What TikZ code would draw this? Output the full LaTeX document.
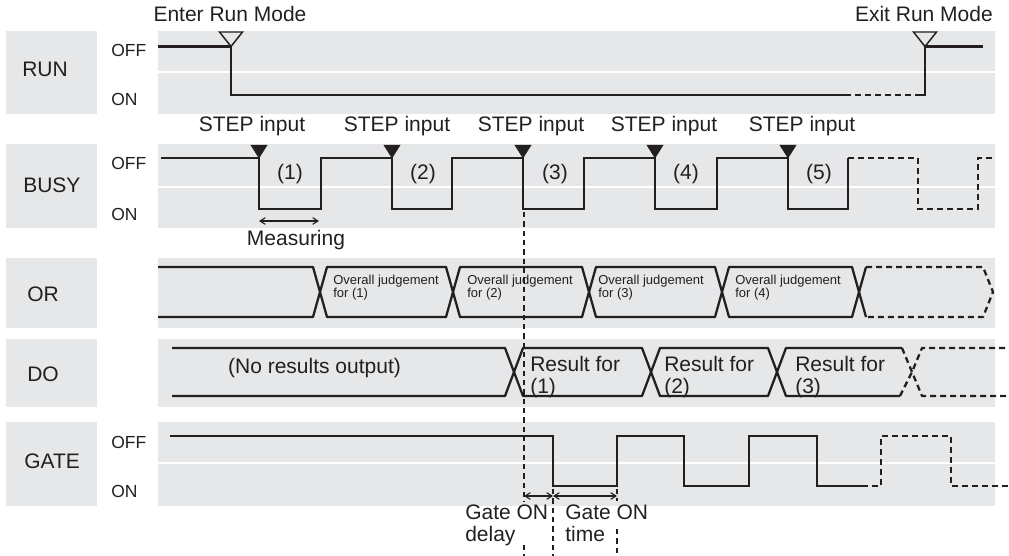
\documentclass[tikz,border=0pt]{standalone}
\usepackage{fontspec}
\setmainfont{Liberation Sans}
\usetikzlibrary{arrows.meta}
\definecolor{bggray}{HTML}{E6E7E8}
\definecolor{ink}{HTML}{231F20}
\begin{document}
\begin{tikzpicture}[x=0.75pt,y=-0.75pt,
  lbl/.style={anchor=base west,inner sep=0pt,font=\fontsize{15.75}{18}\selectfont,text=ink},
  lvl/.style={anchor=base west,inner sep=0pt,font=\fontsize{13.1}{15}\selectfont,text=ink},
  txt/.style={anchor=base,inner sep=0pt,font=\fontsize{15.75}{18}\selectfont,text=ink},
  small/.style={anchor=base west,inner sep=0pt,align=left,font=\fontsize{9.75}{8.8}\selectfont,text=ink},
  res/.style={anchor=base west,inner sep=0pt,align=left,font=\fontsize{15.75}{16.2}\selectfont,text=ink},
  gtxt/.style={anchor=base west,inner sep=0pt,align=left,font=\fontsize{15.75}{16}\selectfont,text=ink},
  sig/.style={draw=ink,line width=1.7pt,line join=miter},
  dsig/.style={sig,dash pattern=on 4.5pt off 3pt},
  bus/.style={draw=ink,line width=1.7pt,line join=round},
  dbus/.style={bus,dash pattern=on 4.5pt off 3pt},
  guide/.style={draw=ink,line width=0.9pt,dash pattern=on 4pt off 3pt},
  dimarrow/.style={draw=ink,line width=0.8pt,{Straight Barb[length=4pt,width=5pt]}-{Straight Barb[length=4pt,width=5pt]}},
  sep/.style={draw=white,line width=1.5pt},
  hollowtri/.style={draw=ink,line width=1.1pt,line join=miter},
  filltri/.style={fill=ink},
]
\useasboundingbox (0,0) rectangle (1009,556);
% ---------- panels ----------
\fill[bggray] (6,31) rectangle (97,114);
\fill[bggray] (158,31) rectangle (995,114);
\draw[sep] (158,72) -- (995,72);
\fill[bggray] (6,144) rectangle (97,228);
\fill[bggray] (158,144) rectangle (995,228);
\draw[sep] (158,186.5) -- (995,186.5);
\fill[bggray] (6,258) rectangle (97,328);
\fill[bggray] (158,258) rectangle (995,328);
\fill[bggray] (6,339) rectangle (97,407);
\fill[bggray] (158,339) rectangle (995,407);
\fill[bggray] (6,422) rectangle (97,506);
\fill[bggray] (158,422) rectangle (995,506);
\draw[sep] (158,463) -- (995,463);
% ---------- row labels ----------
\node[lbl] (lrun) at (22,77) {RUN};
\node[lbl] (lbusy) at (23,192) {BUSY};
\node[lbl] (lor) at (27,301) {OR};
\node[lbl] (ldo) at (27,381) {DO};
\node[lbl] (lgate) at (24,468) {GATE};
\node[lvl] (roff) at (111,57) {OFF};
\node[lvl] (ron) at (111,106) {ON};
\node[lvl] (boff) at (111,170) {OFF};
\node[lvl] (bon) at (111,220) {ON};
\node[lvl] (goff) at (111,448) {OFF};
\node[lvl] (gon) at (111,497) {ON};
% ---------- RUN ----------
\node[txt] (enter) at (230,22) {Enter Run Mode};
\node[lbl,anchor=base east] (exit) at (993,22) {Exit Run Mode};
\draw[sig] (158,46.5) -- (231,46.5) -- (231,95) -- (845,95);
\draw[dsig] (845,95) -- (920,95);
\draw[sig] (920,95) -- (925,95) -- (925,46.5) -- (983,46.5);
\draw[hollowtri] (219.5,32) -- (242.5,32) -- (231,46.5) -- cycle;
\draw[hollowtri] (913.5,32) -- (936.5,32) -- (925,46.5) -- cycle;
% ---------- BUSY ----------
\draw[sig] (161,158) -- (259,158) -- (259,209) -- (321,209) -- (321,158)
  -- (392,158) -- (392,209) -- (452,209) -- (452,158)
  -- (523,158) -- (523,209) -- (584,209) -- (584,158)
  -- (655,158) -- (655,209) -- (717,209) -- (717,158)
  -- (788,158) -- (788,209) -- (848,209) -- (848,158);
\draw[dsig] (848,158) -- (918,158) -- (918,209) -- (978,209) -- (978,158) -- (995,158);
\foreach \x in {259,392,523,655,788}{
  \fill[filltri] (\x-8.5,145) -- (\x+8.5,145) -- (\x,158.5) -- cycle;
}
\node[txt] (s1) at (252,132) {STEP input};
\node[txt] (s2) at (397,132) {STEP input};
\node[txt] (s3) at (531,132) {STEP input};
\node[txt] (s4) at (664,132) {STEP input};
\node[txt] (s5) at (802,132) {STEP input};
\node[txt] (p1) at (290,179) {(1)};
\node[txt] (p2) at (423,179) {(2)};
\node[txt] (p3) at (555,179) {(3)};
\node[txt] (p4) at (686,179) {(4)};
\node[txt] (p5) at (819,179) {(5)};
\draw[dimarrow] (259,221) -- (319,221);
\node[txt] (meas) at (296,245) {Measuring};
% ---------- guides ----------
\draw[guide] (524,212) -- (524,502);
\draw[guide] (524,545) -- (524,556);
\draw[guide] (553,489) -- (553,556);
\draw[guide] (617,489) -- (617,501);
\draw[guide] (617,529) -- (617,556);
% ---------- OR ----------
\draw[bus] (158,267) -- (313,267) -- (320,292) -- (313,317) -- (158,317);
\draw[bus] (320,292) -- (327,267) -- (446,267) -- (453,292) -- (446,317) -- (327,317) -- cycle;
\draw[bus] (453,292) -- (460,267) -- (582,267) -- (589,292) -- (582,317) -- (460,317) -- cycle;
\draw[bus] (589,292) -- (596,267) -- (715,267) -- (722,292) -- (715,317) -- (596,317) -- cycle;
\draw[bus] (722,292) -- (729,267) -- (852,267) -- (859,292) -- (852,317) -- (729,317) -- cycle;
\draw[bus] (866,267) -- (859,292) -- (866,317);
\draw[dbus] (866,267) -- (983,267) -- (993,292) -- (983,317) -- (866,317);
\node[small] (o1) at (333,297.5) {Overall judgement\\for (1)};
\node[small] (o2) at (467,297.5) {Overall judgement\\for (2)};
\node[small] (o3) at (598,297.5) {Overall judgement\\for (3)};
\node[small] (o4) at (735,297.5) {Overall judgement\\for (4)};
% ---------- DO ----------
\draw[bus] (172,348) -- (505,348) -- (514,372) -- (505,396) -- (172,396);
\draw[bus] (514,372) -- (523,348) -- (642,348) -- (651,372) -- (642,396) -- (523,396) -- cycle;
\draw[bus] (651,372) -- (660,348) -- (768,348) -- (777,372) -- (768,396) -- (660,396) -- cycle;
\draw[bus] (902,348) -- (786,348) -- (777,372) -- (786,396) -- (900,396);
\draw[dbus] (902,348) -- (912,372) -- (922,396) -- (1009,396);
\draw[dbus] (900,396) -- (912,372) -- (922,348) -- (1009,348);
\node[txt] (nores) at (314.5,373) {(No results output)};
\node[res] (r1) at (530,393) {Result for\\(1)};
\node[res] (r2) at (664,393) {Result for\\(2)};
\node[res] (r3) at (795,393) {Result for\\(3)};
% ---------- GATE ----------
\draw[sig] (170,436) -- (553,436) -- (553,486) -- (617,486) -- (617,436)
  -- (684,436) -- (684,486) -- (749,486) -- (749,436)
  -- (817,436) -- (817,486) -- (862,486);
\draw[dsig] (862,486) -- (881,486) -- (881,436) -- (951,436) -- (951,486) -- (1009,486);
\draw[dimarrow] (524,496) -- (553,496);
\draw[dimarrow] (553,496) -- (617,496);
\node[gtxt] (gd) at (465,541) {Gate ON\\delay};
\node[gtxt] (gt) at (565,541) {Gate ON\\time};
\end{tikzpicture}
\end{document}
